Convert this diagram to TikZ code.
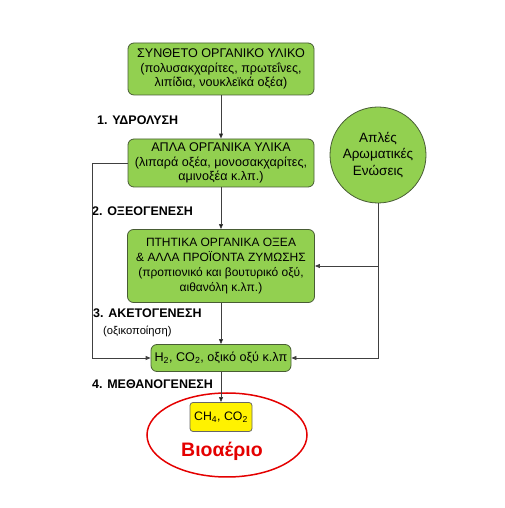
\documentclass[tikz,border=0pt]{standalone}
\usepackage{fontspec}
\setmainfont{Liberation Sans}
\usetikzlibrary{%
  positioning
 ,arrows.meta
 ,shapes.geometric
}
\definecolor{leaf}{RGB}{146,208,80}
\definecolor{leafline}{RGB}{72,92,52}
\definecolor{gasred}{RGB}{228,0,0}
\tikzstyle{flow}=[x=1pt,y=1pt,node distance=94pt,on grid,inner sep=2pt,font=\fontsize{12.6}{14.5}\selectfont]
\tikzstyle{st}=[rectangle,rounded corners=6pt,draw=leafline,fill=leaf,align=center,line width=0.8pt]
\tikzstyle{cst}=[circle,draw=leafline,fill=leaf,align=center,line width=0.8pt,minimum size=96pt,font=\fontsize{13.5}{16.5}\selectfont]
\tikzstyle{gas}=[rectangle,rounded corners=3pt,draw=black!60,fill=yellow,align=center,line width=0.8pt,minimum width=62pt,minimum height=29pt,font=\fontsize{12.3}{14}\selectfont]
\tikzstyle{stage}=[anchor=west,inner sep=0pt,font=\bfseries\fontsize{12.5}{14}\selectfont]
\tikzstyle{wire}=[draw=black!75,line width=0.8pt,-{Triangle[length=5pt,width=4pt]}]

\begin{document}
\begin{tikzpicture}[flow]
      \useasboundingbox (0,0) rectangle (504,508);
      \node[st,minimum width=186pt,minimum height=52pt] (s_1) at (221,439)
        {ΣΥΝΘΕΤΟ ΟΡΓΑΝΙΚΟ ΥΛΙΚΟ\\(πολυσακχαρίτες, πρωτεΐνες,\\λιπίδια, νουκλεϊκά οξέα)};
      \node[st,minimum width=186pt,minimum height=48pt] (s_2) [below=of s_1]
        {ΑΠΛΑ ΟΡΓΑΝΙΚΑ ΥΛΙΚΑ\\(λιπαρά οξέα, μονοσακχαρίτες,\\αμινοξέα κ.λπ.)};
      \node[st,minimum width=187pt,minimum height=73pt,font=\fontsize{12}{15}\selectfont] (s_3) [below=103pt of s_2]
        {ΠΤΗΤΙΚΑ ΟΡΓΑΝΙΚΑ ΟΞΕΑ\\\& ΑΛΛΑ ΠΡΟΪΟΝΤΑ ΖΥΜΩΣΗΣ\\(προπιονικό και βουτυρικό οξύ,\\αιθανόλη κ.λπ.)};
      \node[st,minimum width=140pt,minimum height=27pt] (s_4) [below=92pt of s_3]
        {H\textsubscript{2}, CO\textsubscript{2}, οξικό οξύ κ.λπ};
      \node[gas] (g_1) [below=59pt of s_4] {CH\textsubscript{4}, CO\textsubscript{2}};
      \node[ellipse,draw=gasred,line width=1.5pt,minimum width=160pt,minimum height=84pt] (e_1) at (227,73) {};
      \node[text=gasred,font=\bfseries\fontsize{19.5}{22}\selectfont] (bio) at (222,57) {Βιοαέριο};
      \node[cst] (c_1) at (378,353) {Απλές\\Αρωματικές\\Ενώσεις};

      % stage labels
      \node[stage] (l_1) at (97,388) {1. ΥΔΡΟΛΥΣΗ};
      \node[stage] (l_2) at (92,297) {2. ΟΞΕΟΓΕΝΕΣΗ};
      \node[stage] (l_3) at (93,195) {3. ΑΚΕΤΟΓΕΝΕΣΗ};
      \node[anchor=west,inner sep=0pt,font=\fontsize{11.2}{13}\selectfont] (l_3b) at (103,177) {(οξικοποίηση)};
      \node[stage] (l_4) at (92,124) {4. ΜΕΘΑΝΟΓΕΝΕΣΗ};

      \path[wire]
        (s_1) edge (s_2)
        (s_2) edge (s_3)
        (s_3) edge (s_4)
        (s_4) edge (g_1);
      \draw[wire] (s_2.west) -- ++(-35,0) |- (s_4.west);
      \draw[wire] (c_1.south) |- (s_3.east);
      \draw[wire] (c_1.south) |- (s_4.east);
    \end{tikzpicture}
\end{document}
